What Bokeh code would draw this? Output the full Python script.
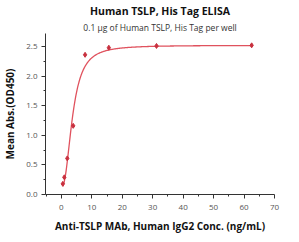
import numpy as np
from bokeh.plotting import figure
from bokeh.models import Range1d, Title, FixedTicker, NumeralTickFormatter
from bokeh.embed import file_html
from bokeh.resources import INLINE

title = "Human TSLP, His Tag ELISA"
subtitle = "0.1 \u03bcg of Human TSLP, His Tag per well"
x_label = "Anti-TSLP MAb, Human IgG2 Conc. (ng/mL)"
y_label = "Mean Abs.(OD450)"

conc = [0.488, 0.977, 1.95, 3.9, 7.8, 15.6, 31.25, 62.5]
od = [0.18, 0.29, 0.61, 1.16, 2.36, 2.48, 2.51, 2.52]

# four-parameter logistic fit parameters (bottom, top, EC50, hill)
fit_bottom, fit_top, fit_ec50, fit_hill = 0.12, 2.52, 3.7, 2.35

x_ticks = [0, 10, 20, 30, 40, 50, 60, 70]
y_ticks = [0.0, 0.5, 1.0, 1.5, 2.0, 2.5]

FONT = "Open Sans"

p = figure(width=299, height=242, output_backend="svg", toolbar_location=None,
           x_range=Range1d(-5.2, 70), y_range=Range1d(0, 2.72),
           min_border_left=45, min_border_right=25, min_border_top=0, min_border_bottom=48)
p.outline_line_color = None
p.grid.visible = False
p.background_fill_color = "white"

xs = np.linspace(min(conc), max(conc), 400)
ys = fit_bottom + (fit_top - fit_bottom) / (1 + (fit_ec50 / xs) ** fit_hill)
p.line(xs, ys, line_color="#e0525e", line_width=1.3)
p.scatter(conc, od, marker="diamond", size=5, color="#c8303e")

for ax in (p.xaxis[0], p.yaxis[0]):
    ax.axis_line_color = "#333333"
    ax.major_tick_line_color = "#333333"
    ax.minor_tick_line_color = "#333333"
    ax.major_tick_in = 0
    ax.major_tick_out = 4
    ax.minor_tick_in = 0
    ax.minor_tick_out = 2
    ax.major_label_text_font = FONT
    ax.major_label_text_font_size = "8px"
    ax.major_label_text_color = "#555555"
    ax.axis_label_text_font = FONT
    ax.axis_label_text_font_size = "10px"
    ax.axis_label_text_font_style = "bold"
    ax.axis_label_text_color = "#111111"

p.xaxis.ticker = FixedTicker(ticks=x_ticks, minor_ticks=[-5, 5, 15, 25, 35, 45, 55, 65])
p.yaxis.ticker = FixedTicker(ticks=y_ticks, minor_ticks=[0.25, 0.75, 1.25, 1.75, 2.25, 2.75])
p.yaxis.formatter = NumeralTickFormatter(format="0.0")
p.xaxis.axis_label = x_label
p.yaxis.axis_label = y_label
p.xaxis.major_label_standoff = 6
p.yaxis.major_label_standoff = 4
p.xaxis.axis_label_standoff = 6
p.yaxis.axis_label_standoff = 6

p.title = Title(text=title, align="center", offset=12, standoff=2, text_font=FONT,
                text_font_size="10.5px", text_font_style="bold", text_color="#111111")
p.add_layout(Title(text=subtitle, align="center", offset=12, standoff=2, text_font=FONT,
                   text_font_size="8.5px", text_font_style="normal", text_color="#333333"), "above")

open("out.html", "w").write(file_html(p, INLINE))
